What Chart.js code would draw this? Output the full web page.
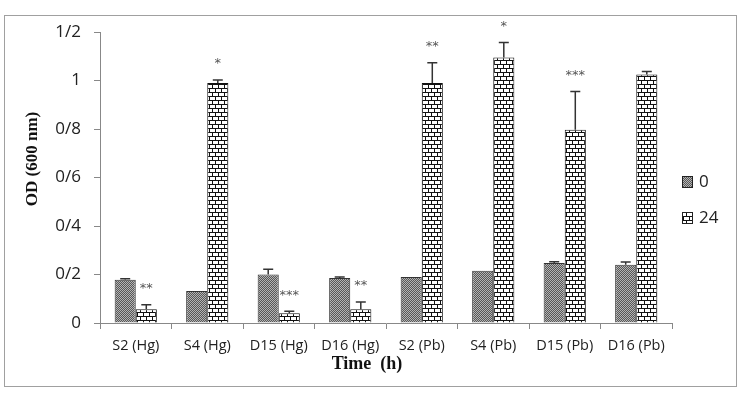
<!DOCTYPE html>
<html>
<head>
<meta charset="utf-8">
<script src="https://cdn.jsdelivr.net/npm/chart.js@4"></script>
<style>
  html, body { margin: 0; padding: 0; background: #fff; }
  .frame {
    position: absolute; left: 4px; top: 15px;
    width: 731px; height: 370px;
    border: 1px solid #a0a0a0;
  }
</style>
</head>
<body>
<div class="frame"><canvas id="odChart" width="731" height="370"></canvas></div>
<script>
// data
const categories = ["S2 (Hg)", "S4 (Hg)", "D15 (Hg)", "D16 (Hg)", "S2 (Pb)", "S4 (Pb)", "D15 (Pb)", "D16 (Pb)"];
const od0 = [0.178, 0.132, 0.200, 0.186, 0.190, 0.215, 0.247, 0.240];
const od24 = [0.057, 0.990, 0.040, 0.057, 0.990, 1.095, 0.797, 1.025];
const err0 = [0.004, 0, 0.022, 0.004, 0, 0, 0.006, 0.012];
const err24 = [0.018, 0.012, 0.008, 0.030, 0.083, 0.062, 0.158, 0.012];
const stars24 = ["**", "*", "***", "**", "**", "*", "***", ""];
const yTickLabels = ["0", "0/2", "0/4", "0/6", "0/8", "1", "1/2"];

function makeStipple() {
  const c = document.createElement("canvas");
  c.width = 2; c.height = 2;
  const g = c.getContext("2d");
  g.fillStyle = "#b4b4b4"; g.fillRect(0, 0, 2, 2);
  g.fillStyle = "#575757"; g.fillRect(0, 0, 1, 1); g.fillRect(1, 1, 1, 1);
  return g.createPattern(c, "repeat");
}

function makeBrick() {
  const c = document.createElement("canvas");
  c.width = 12; c.height = 8;
  const g = c.getContext("2d");
  g.fillStyle = "#fff"; g.fillRect(0, 0, 12, 8);
  g.fillStyle = "#111";
  g.fillRect(0, 0, 12, 1);
  g.fillRect(0, 4, 12, 1);
  g.fillRect(0, 0, 1, 4); g.fillRect(6, 0, 1, 4);
  g.fillRect(3, 4, 1, 4); g.fillRect(9, 4, 1, 4);
  return g.createPattern(c, "repeat");
}

// error bars + significance stars
const errorBars = {
  id: "errorBars",
  afterDatasetsDraw(chart) {
    const ctx = chart.ctx;
    const y = chart.scales.y;
    const errs = [err0, err24];
    ctx.save();
    ctx.strokeStyle = "#333";
    ctx.lineWidth = 1.5;
    errs.forEach((errList, di) => {
      const meta = chart.getDatasetMeta(di);
      meta.data.forEach((bar, i) => {
        const v = chart.data.datasets[di].data[i];
        const e = errList[i];
        const top = y.getPixelForValue(v + e);
        if (e > 0) {
          ctx.beginPath();
          ctx.moveTo(bar.x, bar.y);
          ctx.lineTo(bar.x, top);
          ctx.moveTo(bar.x - 5, top);
          ctx.lineTo(bar.x + 5, top);
          ctx.stroke();
        }
        if (di === 1 && stars24[i]) {
          ctx.fillStyle = "#555";
          ctx.font = "13px 'DejaVu Sans'";
          ctx.textAlign = "center";
          ctx.textBaseline = "middle";
          ctx.fillText(stars24[i], bar.x, top - 16);
        }
      });
    });
    ctx.restore();
  },
};

// axis titles and legend, placed like the original figure
const decorations = {
  id: "decorations",
  afterDraw(chart) {
    const ctx = chart.ctx;
    const area = chart.chartArea;
    ctx.save();
    ctx.fillStyle = "#111";
    ctx.textAlign = "center";
    ctx.textBaseline = "middle";
    ctx.font = "bold 18px 'Liberation Serif'";
    ctx.fillText("Time  (h)", (area.left + area.right) / 2 - 19, 348);
    ctx.translate(28, 143);
    ctx.rotate(-Math.PI / 2);
    ctx.font = "bold 17px 'Liberation Serif'";
    ctx.fillText("OD (600 nm)", 0, 0);
    ctx.restore();

    ctx.save();
    ctx.font = "17px 'Open Sans'";
    ctx.textBaseline = "middle";
    ctx.textAlign = "left";
    chart.data.datasets.forEach((ds, i) => {
      const bx = area.right + 10;
      const by = 160 + i * 36;
      ctx.fillStyle = ds.backgroundColor;
      ctx.fillRect(bx, by, 11, 12);
      ctx.strokeStyle = "#222";
      ctx.lineWidth = 1;
      ctx.strokeRect(bx + 0.5, by + 0.5, 10, 11);
      ctx.fillStyle = "#222";
      ctx.fillText(ds.label, bx + 17, by + 6);
    });
    ctx.restore();
  },
};

const ctx = document.getElementById("odChart").getContext("2d");
const odChart = new Chart(ctx, {
  type: "bar",
  data: {
    labels: categories,
    datasets: [
      {
        label: "0",
        data: od0,
        backgroundColor: makeStipple(),
        borderColor: "#333",
        borderWidth: 1,
        categoryPercentage: 0.59,
        barPercentage: 1.0,
      },
      {
        label: "24",
        data: od24,
        backgroundColor: makeBrick(),
        borderColor: "#111",
        borderWidth: 1,
        categoryPercentage: 0.59,
        barPercentage: 1.0,
      },
    ],
  },
  options: {
    responsive: false,
    animation: false,
    layout: { padding: { top: 16, right: 64, left: 0, bottom: 0 } },
    scales: {
      x: {
        afterFit: function (scale) {
          scale.height = 63;
          scale.paddingLeft = 0;
          scale.paddingRight = 0;
        },
        grid: { display: true, drawOnChartArea: false, color: "#888", tickLength: 6 },
        border: { color: "#888" },
        ticks: { color: "#222", font: { family: "Open Sans", size: 14.5 }, padding: 8 },
      },
      y: {
        min: 0,
        max: 1.2,
        afterFit: function (scale) {
          scale.width = 95;
          scale.paddingTop = 0;
          scale.paddingBottom = 0;
        },
        grid: { display: true, drawOnChartArea: false, color: "#888", tickLength: 6 },
        border: { color: "#888" },
        ticks: {
          stepSize: 0.2,
          color: "#222",
          font: { family: "Open Sans", size: 17 },
          padding: 13,
          callback: function (value, index) {
            return yTickLabels[index];
          },
        },
      },
    },
    plugins: {
      legend: { display: false },
      tooltip: { enabled: false },
    },
  },
  plugins: [errorBars, decorations],
});
</script>
</body>
</html>
